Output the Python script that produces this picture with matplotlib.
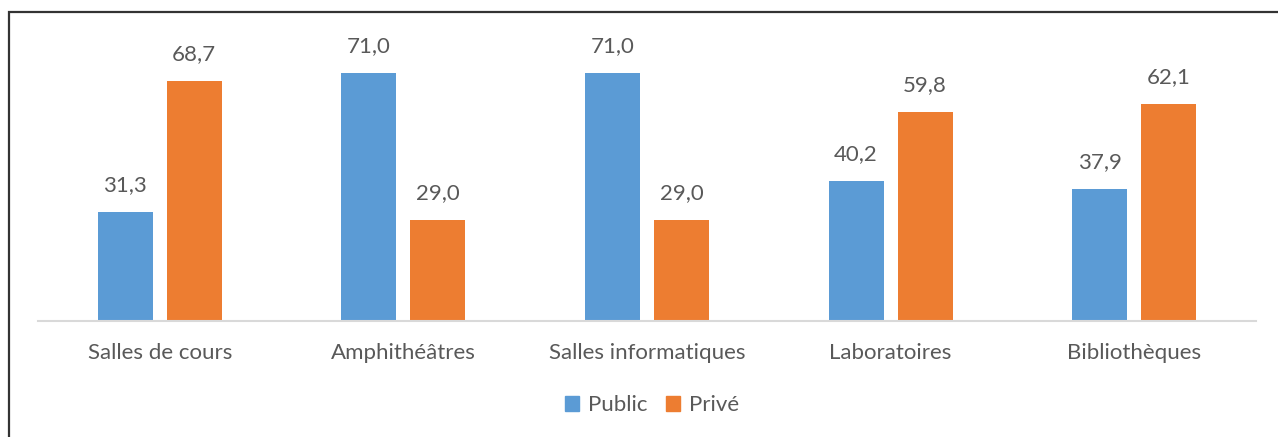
import matplotlib
matplotlib.use("Agg")
import matplotlib.pyplot as plt
import numpy as np
from matplotlib.patches import Rectangle, Patch

categories = ["Salles de cours", "Amphithéâtres", "Salles informatiques", "Laboratoires", "Bibliothèques"]
public = [31.3, 71.0, 71.0, 40.2, 37.9]
prive = [68.7, 29.0, 29.0, 59.8, 62.1]
series_names = ["Public", "Privé"]
colors = ["#5B9BD5", "#ED7D31"]

W, H = 1278, 437
fig = plt.figure(figsize=(W / 100, H / 100), dpi=100)
plt.rcParams['font.family'] = ['Lato', 'DejaVu Sans']
txt = "#595959"
fs = 16

ax = fig.add_axes([38 / W, (H - 321) / H, (1256 - 38) / W, (321 - 42) / H])
x = np.arange(len(categories))
bw = 0.226
gap = 0.057
off = (bw + gap) / 2
b1 = ax.bar(x - off, public, bw, color=colors[0], label=series_names[0])
b2 = ax.bar(x + off, prive, bw, color=colors[1], label=series_names[1])
for bars, vals in ((b1, public), (b2, prive)):
    for r, v in zip(bars, vals):
        ax.annotate(f"{v:.1f}".replace(".", ","), (r.get_x() + r.get_width() / 2, v),
                    xytext=(0, 19.5), textcoords="offset points", ha="center", va="center",
                    fontsize=fs, color=txt)
ax.set_xlim(-0.5, len(categories) - 0.5)
ax.set_ylim(0, 80)
ax.set_yticks([])
ax.set_xticks(x)
ax.set_xticklabels(categories, fontsize=fs, color=txt)
ax.tick_params(axis="x", length=0, pad=16)
for s in ["top", "right", "left"]:
    ax.spines[s].set_visible(False)
ax.spines["bottom"].set_color("#d9d9d9")
ax.spines["bottom"].set_linewidth(1.5)

handles = [Patch(color=c, label=n) for c, n in zip(colors, series_names)]
fig.legend(handles=handles, loc="center", bbox_to_anchor=(652 / W, 1 - 405 / H), ncol=2,
           frameon=False, fontsize=fs, labelcolor=txt, handlelength=0.65, handleheight=0.65,
           handletextpad=0.4, columnspacing=0.8)

fig.patches.append(Rectangle((9 / W, -0.1), 1.2, 1 - 12 / H + 0.1, transform=fig.transFigure,
                             fill=False, edgecolor="#333333", linewidth=1.6))
fig.savefig("out.png", dpi=100)
